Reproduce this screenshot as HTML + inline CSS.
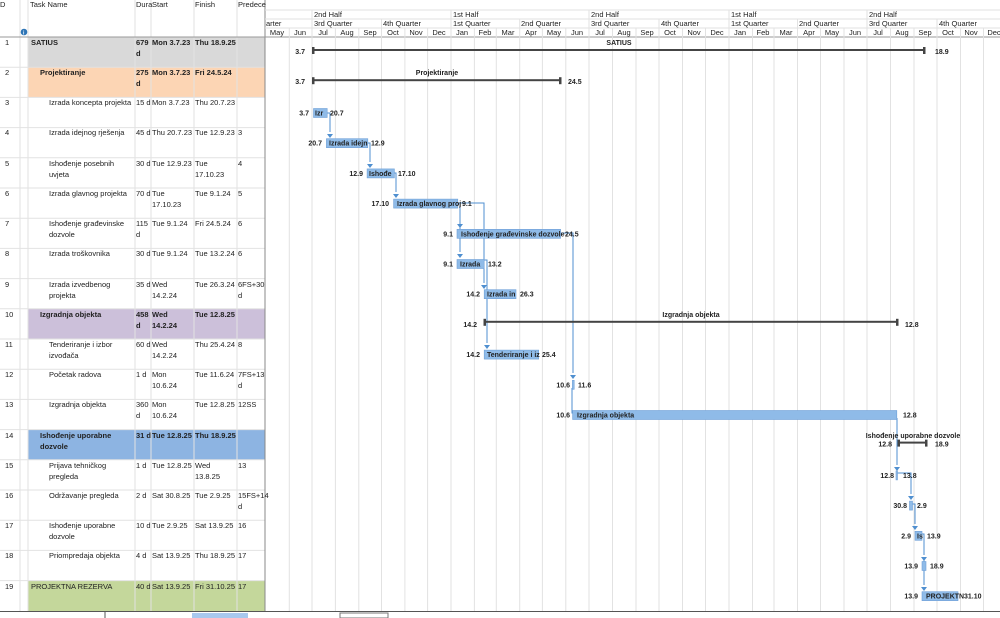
<!DOCTYPE html>
<html><head><meta charset="utf-8"><style>
html,body{margin:0;padding:0;background:#fff;width:1000px;height:618px;overflow:hidden}
svg text{font-family:"Liberation Sans",sans-serif;font-size:7.5px;fill:#222}
.b{font-weight:bold}
.g{stroke:#e2e2e2;stroke-width:1}
.bar{fill:#8fbbe8;stroke:#6fa0d8;stroke-width:0.6}
.cn{stroke:#4f8fd0;stroke-width:1;fill:none}
.lb{font-weight:bold;font-size:7px}
</style></head><body>
<svg width="1000" height="618" xmlns="http://www.w3.org/2000/svg">
<rect x="28" y="37" width="237" height="30.2" fill="#d9d9d9"/>
<rect x="28" y="67.2" width="237" height="30.2" fill="#fcd5b4"/>
<rect x="28" y="308.8" width="237" height="30.2" fill="#ccc0da"/>
<rect x="28" y="429.6" width="237" height="30.2" fill="#8db4e2"/>
<rect x="28" y="580.6" width="237" height="30.4" fill="#c4d79b"/>
<g class="g">
<line x1="0" y1="67.2" x2="265" y2="67.2"/><line x1="0" y1="97.4" x2="265" y2="97.4"/><line x1="0" y1="127.6" x2="265" y2="127.6"/><line x1="0" y1="157.8" x2="265" y2="157.8"/><line x1="0" y1="188" x2="265" y2="188"/><line x1="0" y1="218.2" x2="265" y2="218.2"/><line x1="0" y1="248.4" x2="265" y2="248.4"/><line x1="0" y1="278.6" x2="265" y2="278.6"/><line x1="0" y1="308.8" x2="265" y2="308.8"/><line x1="0" y1="339" x2="265" y2="339"/><line x1="0" y1="369.2" x2="265" y2="369.2"/><line x1="0" y1="399.4" x2="265" y2="399.4"/><line x1="0" y1="429.6" x2="265" y2="429.6"/><line x1="0" y1="459.8" x2="265" y2="459.8"/><line x1="0" y1="490" x2="265" y2="490"/><line x1="0" y1="520.2" x2="265" y2="520.2"/><line x1="0" y1="550.4" x2="265" y2="550.4"/><line x1="0" y1="580.6" x2="265" y2="580.6"/>
<line x1="20" y1="0" x2="20" y2="611"/><line x1="28" y1="0" x2="28" y2="611"/><line x1="135" y1="0" x2="135" y2="611"/><line x1="151" y1="0" x2="151" y2="611"/><line x1="194" y1="0" x2="194" y2="611"/><line x1="237" y1="0" x2="237" y2="611"/>
</g>
<line x1="265" y1="0" x2="265" y2="611" stroke="#888" stroke-width="1"/>
<line x1="0" y1="37" x2="1000" y2="37" stroke="#999" stroke-width="1"/>
<line x1="0" y1="611.5" x2="1000" y2="611.5" stroke="#555" stroke-width="1"/>
<line x1="105" y1="611" x2="105" y2="618" stroke="#555" stroke-width="1"/>
<rect x="192" y="613" width="56" height="5" fill="#a8c8ee"/>
<rect x="340" y="613" width="48" height="5" fill="none" stroke="#777"/>
<text x="0" y="7">D</text><text x="30" y="7">Task Name</text><text x="136" y="7">Dura</text><text x="152" y="7">Start</text><text x="195" y="7">Finish</text><text x="238" y="7">Predece</text>
<circle cx="24" cy="32" r="3.3" fill="#2e75b6"/><text x="23" y="34.5" style="font-size:5px;fill:#fff;font-weight:bold">i</text>
<g>
<text x="5" y="45">1</text><text class="b" x="31" y="45">SATIUS</text><text class="b" x="136" y="45">679</text><text class="b" x="136" y="56">d</text><text class="b" x="152" y="45">Mon 3.7.23</text><text class="b" x="195" y="45">Thu 18.9.25</text>
<text x="5" y="75">2</text><text class="b" x="40" y="75">Projektiranje</text><text class="b" x="136" y="75">275</text><text class="b" x="136" y="86">d</text><text class="b" x="152" y="75">Mon 3.7.23</text><text class="b" x="195" y="75">Fri 24.5.24</text>
<text x="5" y="105">3</text><text x="49" y="105">Izrada koncepta projekta</text><text x="136" y="105">15 d</text><text x="152" y="105">Mon 3.7.23</text><text x="195" y="105">Thu 20.7.23</text>
<text x="5" y="135">4</text><text x="49" y="135">Izrada idejnog rješenja</text><text x="136" y="135">45 d</text><text x="152" y="135">Thu 20.7.23</text><text x="195" y="135">Tue 12.9.23</text><text x="238" y="135">3</text>
<text x="5" y="166">5</text><text x="49" y="166">Ishođenje posebnih</text><text x="49" y="177">uvjeta</text><text x="136" y="166">30 d</text><text x="152" y="166">Tue 12.9.23</text><text x="195" y="166">Tue</text><text x="195" y="177">17.10.23</text><text x="238" y="166">4</text>
<text x="5" y="196">6</text><text x="49" y="196">Izrada glavnog projekta</text><text x="136" y="196">70 d</text><text x="152" y="196">Tue</text><text x="152" y="207">17.10.23</text><text x="195" y="196">Tue 9.1.24</text><text x="238" y="196">5</text>
<text x="5" y="226">7</text><text x="49" y="226">Ishođenje građevinske</text><text x="49" y="237">dozvole</text><text x="136" y="226">115</text><text x="136" y="237">d</text><text x="152" y="226">Tue 9.1.24</text><text x="195" y="226">Fri 24.5.24</text><text x="238" y="226">6</text>
<text x="5" y="256">8</text><text x="49" y="256">Izrada troškovnika</text><text x="136" y="256">30 d</text><text x="152" y="256">Tue 9.1.24</text><text x="195" y="256">Tue 13.2.24</text><text x="238" y="256">6</text>
<text x="5" y="287">9</text><text x="49" y="287">Izrada izvedbenog</text><text x="49" y="298">projekta</text><text x="136" y="287">35 d</text><text x="152" y="287">Wed</text><text x="152" y="298">14.2.24</text><text x="195" y="287">Tue 26.3.24</text><text x="238" y="287">6FS+30</text><text x="238" y="298">d</text>
<text x="5" y="317">10</text><text class="b" x="40" y="317">Izgradnja objekta</text><text class="b" x="136" y="317">458</text><text class="b" x="136" y="328">d</text><text class="b" x="152" y="317">Wed</text><text class="b" x="152" y="328">14.2.24</text><text class="b" x="195" y="317">Tue 12.8.25</text>
<text x="5" y="347">11</text><text x="49" y="347">Tenderiranje i izbor</text><text x="49" y="358">izvođača</text><text x="136" y="347">60 d</text><text x="152" y="347">Wed</text><text x="152" y="358">14.2.24</text><text x="195" y="347">Thu 25.4.24</text><text x="238" y="347">8</text>
<text x="5" y="377">12</text><text x="49" y="377">Početak radova</text><text x="136" y="377">1 d</text><text x="152" y="377">Mon</text><text x="152" y="388">10.6.24</text><text x="195" y="377">Tue 11.6.24</text><text x="238" y="377">7FS+13</text><text x="238" y="388">d</text>
<text x="5" y="407">13</text><text x="49" y="407">Izgradnja objekta</text><text x="136" y="407">360</text><text x="136" y="418">d</text><text x="152" y="407">Mon</text><text x="152" y="418">10.6.24</text><text x="195" y="407">Tue 12.8.25</text><text x="238" y="407">12SS</text>
<text x="5" y="438">14</text><text class="b" x="40" y="438">Ishođenje uporabne</text><text class="b" x="40" y="449">dozvole</text><text class="b" x="136" y="438">31 d</text><text class="b" x="152" y="438">Tue 12.8.25</text><text class="b" x="195" y="438">Thu 18.9.25</text>
<text x="5" y="468">15</text><text x="49" y="468">Prijava tehničkog</text><text x="49" y="479">pregleda</text><text x="136" y="468">1 d</text><text x="152" y="468">Tue 12.8.25</text><text x="195" y="468">Wed</text><text x="195" y="479">13.8.25</text><text x="238" y="468">13</text>
<text x="5" y="498">16</text><text x="49" y="498">Održavanje pregleda</text><text x="136" y="498">2 d</text><text x="152" y="498">Sat 30.8.25</text><text x="195" y="498">Tue 2.9.25</text><text x="238" y="498">15FS+14</text><text x="238" y="509">d</text>
<text x="5" y="528">17</text><text x="49" y="528">Ishođenje uporabne</text><text x="49" y="539">dozvole</text><text x="136" y="528">10 d</text><text x="152" y="528">Tue 2.9.25</text><text x="195" y="528">Sat 13.9.25</text><text x="238" y="528">16</text>
<text x="5" y="558">18</text><text x="49" y="558">Priompredaja objekta</text><text x="136" y="558">4 d</text><text x="152" y="558">Sat 13.9.25</text><text x="195" y="558">Thu 18.9.25</text><text x="238" y="558">17</text>
<text x="5" y="589">19</text><text x="31" y="589">PROJEKTNA REZERVA</text><text x="136" y="589">40 d</text><text x="152" y="589">Sat 13.9.25</text><text x="195" y="589">Fri 31.10.25</text><text x="238" y="589">17</text>
</g>
<g class="g">
<line x1="289.3" y1="28" x2="289.3" y2="611"/><line x1="312" y1="10" x2="312" y2="611"/><line x1="335.4" y1="28" x2="335.4" y2="611"/><line x1="358.8" y1="28" x2="358.8" y2="611"/><line x1="381.5" y1="19" x2="381.5" y2="611"/><line x1="404.9" y1="28" x2="404.9" y2="611"/><line x1="427.6" y1="28" x2="427.6" y2="611"/><line x1="451" y1="10" x2="451" y2="611"/><line x1="474.4" y1="28" x2="474.4" y2="611"/><line x1="496.3" y1="28" x2="496.3" y2="611"/><line x1="519.7" y1="19" x2="519.7" y2="611"/><line x1="542.4" y1="28" x2="542.4" y2="611"/><line x1="565.8" y1="28" x2="565.8" y2="611"/><line x1="589" y1="10" x2="589" y2="611"/><line x1="612.5" y1="28" x2="612.5" y2="611"/><line x1="636" y1="28" x2="636" y2="611"/><line x1="659" y1="19" x2="659" y2="611"/><line x1="682.5" y1="28" x2="682.5" y2="611"/><line x1="705.5" y1="28" x2="705.5" y2="611"/><line x1="729" y1="10" x2="729" y2="611"/><line x1="752.5" y1="28" x2="752.5" y2="611"/><line x1="774" y1="28" x2="774" y2="611"/><line x1="797.5" y1="19" x2="797.5" y2="611"/><line x1="820.5" y1="28" x2="820.5" y2="611"/><line x1="844" y1="28" x2="844" y2="611"/><line x1="867" y1="10" x2="867" y2="611"/><line x1="890.5" y1="28" x2="890.5" y2="611"/><line x1="914" y1="28" x2="914" y2="611"/><line x1="937" y1="19" x2="937" y2="611"/><line x1="960.5" y1="28" x2="960.5" y2="611"/><line x1="983.5" y1="28" x2="983.5" y2="611"/>
<line x1="265" y1="19" x2="1000" y2="19"/><line x1="265" y1="28" x2="1000" y2="28"/><line x1="265" y1="10" x2="1000" y2="10"/>
</g>
<g>
<text x="314" y="17">2nd Half</text><text x="453" y="17">1st Half</text><text x="591" y="17">2nd Half</text><text x="731" y="17">1st Half</text><text x="869" y="17">2nd Half</text>
<text x="266" y="26">arter</text><text x="314" y="26">3rd Quarter</text><text x="383" y="26">4th Quarter</text><text x="453" y="26">1st Quarter</text><text x="521" y="26">2nd Quarter</text><text x="591" y="26">3rd Quarter</text><text x="661" y="26">4th Quarter</text><text x="731" y="26">1st Quarter</text><text x="799" y="26">2nd Quarter</text><text x="869" y="26">3rd Quarter</text><text x="939" y="26">4th Quarter</text>
</g>
<g text-anchor="middle">
<text x="277" y="35">May</text><text x="300" y="35">Jun</text><text x="323" y="35">Jul</text><text x="347" y="35">Aug</text><text x="370" y="35">Sep</text><text x="393" y="35">Oct</text><text x="416" y="35">Nov</text><text x="439" y="35">Dec</text><text x="462" y="35">Jan</text><text x="485" y="35">Feb</text><text x="508" y="35">Mar</text><text x="531" y="35">Apr</text><text x="554" y="35">May</text><text x="577" y="35">Jun</text><text x="600" y="35">Jul</text><text x="624" y="35">Aug</text><text x="647" y="35">Sep</text><text x="670" y="35">Oct</text><text x="694" y="35">Nov</text><text x="717" y="35">Dec</text><text x="740" y="35">Jan</text><text x="763" y="35">Feb</text><text x="786" y="35">Mar</text><text x="809" y="35">Apr</text><text x="832" y="35">May</text><text x="855" y="35">Jun</text><text x="878" y="35">Jul</text><text x="902" y="35">Aug</text><text x="925" y="35">Sep</text><text x="948" y="35">Oct</text><text x="971" y="35">Nov</text><text x="994" y="35">Dec</text>
</g>
<g class="cn">
<path d="M327 113 H330 V132"/><path d="M368 143 H370 V162"/><path d="M394 173 H396 V192"/>
<path d="M458 203 H460 V222"/><path d="M460 218 V252"/><path d="M458 203 H484 V283"/><path d="M484 260 H487 V343"/>
<path d="M561 233 H573 V373"/><path d="M572 388 V413 H575"/><path d="M897 418 V465"/><path d="M897 473 H911 V494"/><path d="M912 504 H915 V524"/><path d="M921 534 H924 V555"/><path d="M924 560 V585"/>
</g>
<g fill="#4f8fd0">
<path d="M327 134 L333 134 L330 138Z"/><path d="M367 164 L373 164 L370 168Z"/><path d="M393 194 L399 194 L396 198Z"/><path d="M457 224 L463 224 L460 228Z"/><path d="M457 254 L463 254 L460 258Z"/><path d="M481 285 L487 285 L484 289Z"/><path d="M484 345 L490 345 L487 349Z"/><path d="M570 375 L576 375 L573 379Z"/><path d="M894 467 L900 467 L897 471Z"/><path d="M908 496 L914 496 L911 500Z"/><path d="M912 526 L918 526 L915 530Z"/><path d="M921 557 L927 557 L924 561Z"/><path d="M921 587 L927 587 L924 591Z"/>
</g>
<g fill="#444">
<rect x="313" y="49" width="612" height="2"/><rect x="312" y="47" width="2.5" height="7"/><rect x="923" y="47" width="2.5" height="7"/>
<rect x="313" y="79.2" width="248" height="2"/><rect x="312" y="77.2" width="2.5" height="7"/><rect x="559" y="77.2" width="2.5" height="7"/>
<rect x="484" y="320.8" width="414" height="2"/><rect x="483.5" y="318.8" width="2.5" height="7"/><rect x="896" y="318.8" width="2.5" height="7"/>
<rect x="898" y="441.6" width="29" height="2"/><rect x="897.5" y="439.6" width="2.5" height="7"/><rect x="925" y="439.6" width="2.5" height="7"/>
</g>
<g text-anchor="middle">
<text class="lb" x="619" y="45">SATIUS</text><text class="lb" x="437" y="75">Projektiranje</text><text class="lb" x="691" y="317">Izgradnja objekta</text><text class="lb" x="913" y="438">Ishođenje uporabne dozvole</text>
</g>
<g>
<rect class="bar" x="313.5" y="108.5" width="13.7" height="9"/>
<rect class="bar" x="326.4" y="138.7" width="41.4" height="9"/>
<rect class="bar" x="367.1" y="168.9" width="27.3" height="9"/>
<rect class="bar" x="393.6" y="199.1" width="64.2" height="9"/>
<rect class="bar" x="457" y="229.3" width="103.6" height="9"/>
<rect class="bar" x="457" y="259.5" width="27.2" height="9"/>
<rect class="bar" x="484.2" y="289.7" width="31.8" height="9"/>
<rect class="bar" x="484.2" y="350.1" width="54.5" height="9"/>
<rect class="bar" x="572.4" y="380.3" width="1.8" height="9"/>
<rect class="bar" x="572.6" y="410.5" width="324.2" height="9"/>
<rect class="bar" x="896" y="470.9" width="1.5" height="9"/>
<rect class="bar" x="909.5" y="501.1" width="3" height="9"/>
<rect class="bar" x="915" y="531.3" width="7" height="9"/>
<rect class="bar" x="922" y="561.5" width="4" height="9"/>
<rect class="bar" x="922" y="591.7" width="36" height="9"/>
</g>
<g>
<text class="lb" x="315" y="115.5">Izr</text><text class="lb" x="329" y="145.7">Izrada idejn</text><text class="lb" x="369" y="175.9">Ishođe</text><text class="lb" x="397" y="206.1">Izrada glavnog proj</text><text class="lb" x="461" y="236.3">Ishođenje građevinske dozvole</text><text class="lb" x="460" y="266.5">Izrada</text><text class="lb" x="487" y="296.7">Izrada in</text><text class="lb" x="487" y="357.1">Tenderiranje i iz</text><text class="lb" x="577" y="417.5">Izgradnja objekta</text><text class="lb" x="917" y="538.3">Is</text><text class="lb" x="926" y="598.7">PROJEKTN</text>
</g>
<g text-anchor="end">
<text class="lb" x="305" y="54">3.7</text><text class="lb" x="305" y="84.2">3.7</text><text class="lb" x="309" y="115.5">3.7</text><text class="lb" x="322" y="145.7">20.7</text><text class="lb" x="363" y="175.9">12.9</text><text class="lb" x="389" y="206.1">17.10</text><text class="lb" x="453" y="236.3">9.1</text><text class="lb" x="453" y="266.5">9.1</text><text class="lb" x="480" y="296.7">14.2</text><text class="lb" x="477" y="326.8">14.2</text><text class="lb" x="480" y="357.1">14.2</text><text class="lb" x="570" y="387.3">10.6</text><text class="lb" x="570" y="417.5">10.6</text><text class="lb" x="892" y="446.6">12.8</text><text class="lb" x="894" y="477.9">12.8</text><text class="lb" x="907" y="508.1">30.8</text><text class="lb" x="911" y="538.3">2.9</text><text class="lb" x="918" y="568.5">13.9</text><text class="lb" x="918" y="598.7">13.9</text>
</g>
<g>
<text class="lb" x="935" y="54">18.9</text><text class="lb" x="568" y="84.2">24.5</text><text class="lb" x="330" y="115.5">20.7</text><text class="lb" x="371" y="145.7">12.9</text><text class="lb" x="398" y="175.9">17.10</text><text class="lb" x="462" y="206.1">9.1</text><text class="lb" x="565" y="236.3">24.5</text><text class="lb" x="488" y="266.5">13.2</text><text class="lb" x="520" y="296.7">26.3</text><text class="lb" x="905" y="326.8">12.8</text><text class="lb" x="542" y="357.1">25.4</text><text class="lb" x="578" y="387.3">11.6</text><text class="lb" x="903" y="417.5">12.8</text><text class="lb" x="935" y="446.6">18.9</text><text class="lb" x="903" y="477.9">13.8</text><text class="lb" x="917" y="508.1">2.9</text><text class="lb" x="927" y="538.3">13.9</text><text class="lb" x="930" y="568.5">18.9</text><text class="lb" x="964" y="598.7">31.10</text>
</g>
</svg>
</body></html>
